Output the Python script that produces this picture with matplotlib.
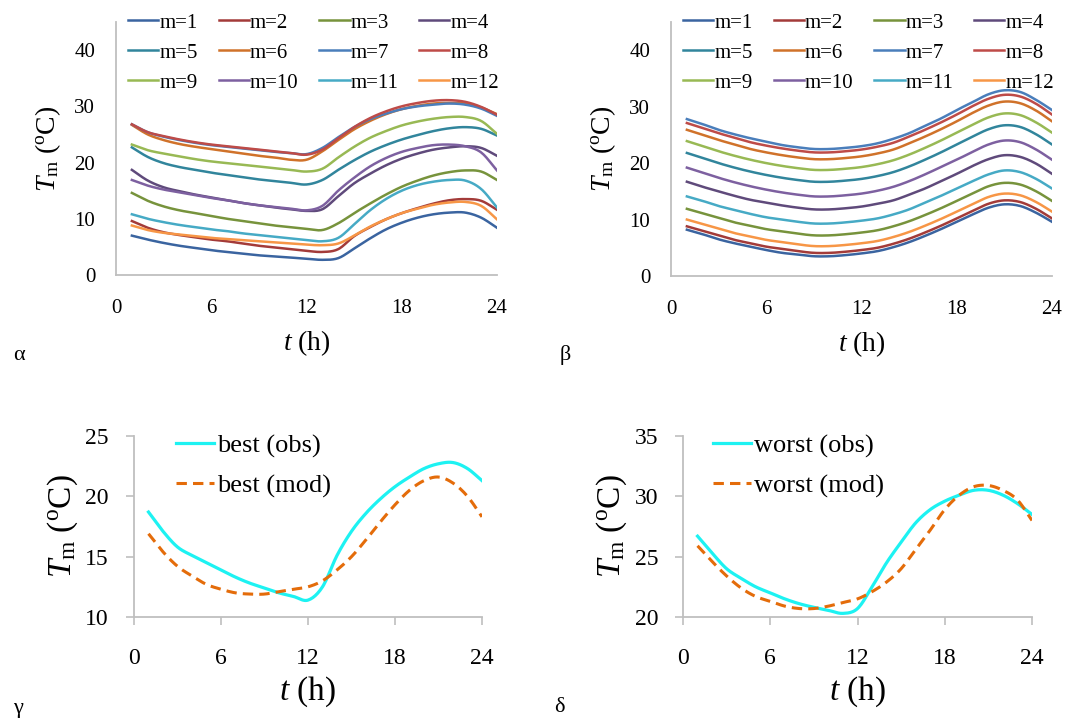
import numpy as np
import matplotlib
matplotlib.use("Agg")
import matplotlib.pyplot as plt

plt.rcParams['font.family'] = ['Liberation Serif', 'DejaVu Serif']
plt.rcParams['mathtext.fontset'] = 'custom'
plt.rcParams['mathtext.rm'] = 'Liberation Serif'
plt.rcParams['mathtext.it'] = 'Liberation Serif:italic'

hours = list(range(1, 25))
labels = [f"m={i}" for i in range(1, 13)]
colors = ['#3A64A0', '#A33B39', '#77933C', '#5F4A7B', '#31859C', '#D0722A',
          '#4A7EBB', '#BE4B48', '#98B954', '#7D60A0', '#46AAC5', '#F79646']

# panel alpha: observed monthly mean daily profiles
obs_m = [
    [7.0, 6.3, 5.7, 5.2, 4.8, 4.4, 4.1, 3.8, 3.5, 3.3, 3.1, 2.9, 2.7, 3.0, 4.7, 6.5, 8.1, 9.3, 10.2, 10.8, 11.1, 11.1, 10.2, 8.4],
    [9.6, 8.4, 7.6, 7.1, 6.7, 6.3, 6.0, 5.6, 5.2, 4.9, 4.6, 4.3, 4.1, 4.6, 6.9, 8.5, 9.9, 11.0, 11.9, 12.7, 13.3, 13.5, 13.2, 11.6],
    [14.6, 13.2, 12.2, 11.5, 11.0, 10.5, 10.0, 9.6, 9.2, 8.8, 8.5, 8.2, 8.0, 9.2, 11.0, 12.7, 14.3, 15.7, 16.8, 17.7, 18.3, 18.6, 18.4, 16.9],
    [18.7, 16.8, 15.6, 14.9, 14.3, 13.8, 13.3, 12.8, 12.4, 12.0, 11.7, 11.4, 11.7, 14.0, 16.3, 18.0, 19.5, 20.7, 21.6, 22.3, 22.7, 22.9, 22.6, 21.2],
    [22.7, 21.0, 19.9, 19.2, 18.7, 18.2, 17.8, 17.4, 17.0, 16.7, 16.4, 16.1, 16.9, 18.7, 20.4, 21.9, 23.1, 24.1, 24.9, 25.6, 26.1, 26.3, 26.0, 24.8],
    [26.7, 25.0, 24.0, 23.3, 22.8, 22.4, 22.0, 21.6, 21.2, 20.9, 20.5, 20.5, 22.0, 24.0, 25.9, 27.4, 28.6, 29.5, 30.1, 30.5, 30.6, 30.5, 29.8, 28.6],
    [26.8, 25.4, 24.6, 24.0, 23.5, 23.1, 22.8, 22.5, 22.2, 21.9, 21.7, 21.5, 22.6, 24.5, 26.3, 27.7, 28.7, 29.5, 30.0, 30.3, 30.5, 30.3, 29.6, 28.3],
    [26.8, 25.4, 24.7, 24.1, 23.6, 23.2, 22.9, 22.6, 22.3, 22.0, 21.7, 21.4, 22.3, 24.3, 26.3, 27.9, 29.1, 30.0, 30.6, 31.0, 31.1, 30.8, 29.9, 28.5],
    [23.2, 22.2, 21.6, 21.1, 20.6, 20.2, 19.9, 19.6, 19.3, 19.0, 18.7, 18.4, 18.9, 20.9, 22.8, 24.4, 25.6, 26.6, 27.3, 27.8, 28.1, 28.1, 27.4, 25.1],
    [16.9, 15.9, 15.2, 14.7, 14.2, 13.7, 13.3, 12.8, 12.4, 12.1, 11.8, 11.5, 12.3, 15.0, 17.3, 19.3, 20.8, 21.9, 22.6, 23.1, 23.2, 22.9, 21.8, 18.6],
    [10.8, 10.0, 9.4, 8.9, 8.5, 8.1, 7.8, 7.4, 7.1, 6.8, 6.5, 6.2, 6.0, 6.6, 9.0, 11.5, 13.5, 15.0, 16.0, 16.6, 16.9, 16.8, 15.3, 12.0],
    [8.8, 8.0, 7.5, 7.2, 6.9, 6.6, 6.4, 6.2, 6.0, 5.8, 5.6, 5.4, 5.3, 5.6, 7.0, 8.6, 9.9, 11.0, 11.8, 12.5, 12.9, 13.0, 12.3, 9.9],
]

# panel beta: modelled monthly profiles
mod_m = [
    [8.2, 7.4, 6.5, 5.8, 5.2, 4.6, 4.1, 3.8, 3.5, 3.5, 3.7, 4.0, 4.4, 5.1, 6.0, 7.1, 8.3, 9.6, 10.9, 12.1, 12.7, 12.4, 11.2, 9.6],
    [8.8, 8.0, 7.2, 6.4, 5.8, 5.2, 4.8, 4.4, 4.1, 4.1, 4.3, 4.6, 5.0, 5.7, 6.6, 7.7, 8.9, 10.2, 11.5, 12.8, 13.4, 13.1, 11.9, 10.2],
    [11.9, 11.1, 10.3, 9.5, 8.9, 8.3, 7.9, 7.5, 7.2, 7.2, 7.4, 7.7, 8.1, 8.8, 9.7, 10.8, 12.0, 13.3, 14.6, 15.9, 16.5, 16.2, 15.0, 13.3],
    [16.7, 15.8, 15.0, 14.2, 13.5, 13.0, 12.5, 12.1, 11.8, 11.8, 12.0, 12.3, 12.8, 13.4, 14.4, 15.5, 16.8, 18.1, 19.5, 20.7, 21.4, 21.1, 19.9, 18.1],
    [21.8, 20.9, 20.0, 19.2, 18.5, 17.9, 17.4, 17.0, 16.7, 16.7, 16.9, 17.2, 17.7, 18.4, 19.4, 20.6, 21.9, 23.3, 24.7, 26.0, 26.7, 26.4, 25.1, 23.3],
    [25.9, 25.0, 24.1, 23.3, 22.5, 21.9, 21.4, 21.0, 20.7, 20.7, 20.9, 21.2, 21.7, 22.4, 23.5, 24.7, 26.0, 27.4, 28.9, 30.2, 30.9, 30.6, 29.3, 27.4],
    [27.8, 26.9, 25.9, 25.1, 24.4, 23.8, 23.2, 22.8, 22.5, 22.5, 22.7, 23.0, 23.5, 24.3, 25.3, 26.6, 27.9, 29.4, 30.8, 32.2, 32.9, 32.6, 31.2, 29.4],
    [27.1, 26.2, 25.3, 24.5, 23.7, 23.1, 22.6, 22.2, 21.9, 21.9, 22.1, 22.4, 22.9, 23.6, 24.7, 25.9, 27.2, 28.6, 30.1, 31.4, 32.1, 31.8, 30.5, 28.6],
    [23.9, 23.0, 22.1, 21.3, 20.6, 20.0, 19.5, 19.1, 18.8, 18.8, 19.0, 19.3, 19.8, 20.5, 21.5, 22.7, 24.0, 25.4, 26.8, 28.1, 28.8, 28.5, 27.2, 25.4],
    [19.2, 18.3, 17.4, 16.6, 15.9, 15.3, 14.8, 14.4, 14.1, 14.1, 14.3, 14.6, 15.1, 15.8, 16.8, 18.0, 19.3, 20.6, 22.0, 23.3, 24.0, 23.7, 22.4, 20.6],
    [14.1, 13.3, 12.4, 11.7, 11.0, 10.4, 10.0, 9.6, 9.3, 9.3, 9.5, 9.8, 10.2, 10.9, 11.8, 13.0, 14.2, 15.5, 16.8, 18.0, 18.7, 18.4, 17.2, 15.5],
    [10.0, 9.2, 8.4, 7.6, 7.0, 6.4, 6.0, 5.6, 5.3, 5.3, 5.5, 5.8, 6.2, 6.9, 7.8, 8.9, 10.1, 11.4, 12.7, 14.0, 14.6, 14.3, 13.1, 11.4],
]

# panels gamma and delta
best_obs = [18.7, 17.1, 15.8, 15.1, 14.5, 13.9, 13.3, 12.8, 12.4, 12.0, 11.7, 11.4, 12.5, 15.1, 17.1, 18.6, 19.8, 20.8, 21.6, 22.3, 22.7, 22.8, 22.3, 21.3]
best_mod = [16.9, 15.4, 14.2, 13.4, 12.7, 12.3, 12.0, 11.9, 11.9, 12.1, 12.3, 12.5, 13.0, 13.9, 15.0, 16.4, 17.9, 19.3, 20.5, 21.3, 21.6, 21.1, 20.0, 18.3]
worst_obs = [26.7, 25.3, 24.0, 23.2, 22.5, 22.0, 21.5, 21.1, 20.8, 20.55, 20.3, 20.7, 22.5, 24.5, 26.2, 27.8, 28.9, 29.6, 30.1, 30.5, 30.5, 30.1, 29.4, 28.5]
worst_mod = [25.9, 24.6, 23.4, 22.4, 21.7, 21.3, 20.9, 20.7, 20.7, 20.9, 21.2, 21.5, 22.1, 22.9, 24.0, 25.6, 27.2, 28.9, 30.1, 30.8, 30.9, 30.5, 29.7, 28.0]

W, H = 1089, 725
fig = plt.figure(figsize=(W / 100, H / 100), dpi=100)


def smooth(x, y, n=12):
    # Catmull-Rom curve through the points, like Excel's "smoothed line"
    x = np.asarray(x, float)
    y = np.asarray(y, float)
    px = np.concatenate([[2 * x[0] - x[1]], x, [2 * x[-1] - x[-2]]])
    py = np.concatenate([[2 * y[0] - y[1]], y, [2 * y[-1] - y[-2]]])
    s = np.linspace(0, 1, n, endpoint=False)
    xs, ys = [], []
    for i in range(1, len(px) - 2):
        for p, out in ((px, xs), (py, ys)):
            p0, p1, p2, p3 = p[i - 1], p[i], p[i + 1], p[i + 2]
            out.extend(0.5 * (2 * p1 + (-p0 + p2) * s + (2 * p0 - 5 * p1 + 4 * p2 - p3) * s ** 2
                              + (-p0 + 3 * p1 - 3 * p2 + p3) * s ** 3))
    xs.append(x[-1])
    ys.append(y[-1])
    return xs, ys


def px_axes(left, top, right, bottom):
    return fig.add_axes([left / W, 1 - bottom / H, (right - left) / W, (bottom - top) / H])


ylab = r'$T_\mathrm{m}$ ($^\mathrm{o}$C)'
gray = '#BFBFBF'


def style(ax, ticks_out):
    for s in ['top', 'right']:
        ax.spines[s].set_visible(False)
    for s in ['left', 'bottom']:
        ax.spines[s].set_color(gray)
        ax.spines[s].set_linewidth(1.3)
    ax.set_xlim(0, 24)
    ax.set_xticks([0, 6, 12, 18, 24])
    if ticks_out:
        ax.tick_params(length=6, width=1.2, color=gray, direction='out', labelsize=17)
        ax.tick_params(axis='x', pad=16)
        ax.tick_params(axis='y', pad=12)
    else:
        ax.tick_params(length=0, labelsize=15)
        ax.tick_params(axis='x', pad=17)
        ax.tick_params(axis='y', pad=15)


# legend fills row by row, matplotlib fills column by column
leg_order = [0, 4, 8, 1, 5, 9, 2, 6, 10, 3, 7, 11]

# top panels
for ax_box, data, letter, lx in [((116, 22, 497, 275), obs_m, 'α', 13),
                                  ((671, 22, 1052, 276), mod_m, 'β', 560)]:
    ax = px_axes(*ax_box)
    handles = []
    for i in range(12):
        xs, ys = smooth(hours, data[i])
        h, = ax.plot(xs, ys, color=colors[i], lw=1.8, label=labels[i])
        handles.append(h)
    style(ax, False)
    ax.set_ylim(0, 45)
    ax.set_yticks([0, 10, 20, 30, 40])
    ax.set_xlabel(r'$t$ (h)', fontsize=20, labelpad=8)
    ax.set_ylabel(ylab, fontsize=20, labelpad=8)
    ax.legend([handles[k] for k in leg_order], [labels[k] for k in leg_order],
              loc='upper left', bbox_to_anchor=(0.01, 1.068), ncol=4, frameon=False,
              fontsize=15, handlelength=1.45, handletextpad=0.05, columnspacing=1.0,
              labelspacing=0.5, borderaxespad=0)
    fig.text(lx / W, 1 - 355 / H, letter, fontsize=16, va='center')

# bottom panels
for ax_box, obs, mod, names, ylim, letter, lx, lgx in [
        ((134, 436, 482, 617), best_obs, best_mod, ['best (obs)', 'best (mod)'], (10, 25), 'γ', 13, 0.09),
        ((683, 436, 1032, 617), worst_obs, worst_mod, ['worst (obs)', 'worst (mod)'], (20, 35), 'δ', 554, 0.055)]:
    ax = px_axes(*ax_box)
    xs, ys = smooth(hours, obs)
    ax.plot(xs, ys, color='#1DF2F2', lw=2.3, label=names[0])
    xs, ys = smooth(hours, mod)
    ax.plot(xs, ys, color='#E46C0A', lw=2.2, dashes=(3.4, 2.0), label=names[1])
    style(ax, True)
    ax.set_ylim(*ylim)
    ax.set_yticks(np.arange(ylim[0], ylim[1] + 1, 5))
    ax.set_xlabel(r'$t$ (h)', fontsize=24, labelpad=4)
    ax.set_ylabel(ylab, fontsize=24, labelpad=4)
    ax.legend(loc='upper left', bbox_to_anchor=(lgx, 1.07), frameon=False,
              fontsize=19, handlelength=1.45, handletextpad=0.1, labelspacing=0.6,
              borderaxespad=0)
    fig.text(lx / W, 1 - 708 / H, letter, fontsize=16, va='center')

fig.savefig('out.png', dpi=100)
